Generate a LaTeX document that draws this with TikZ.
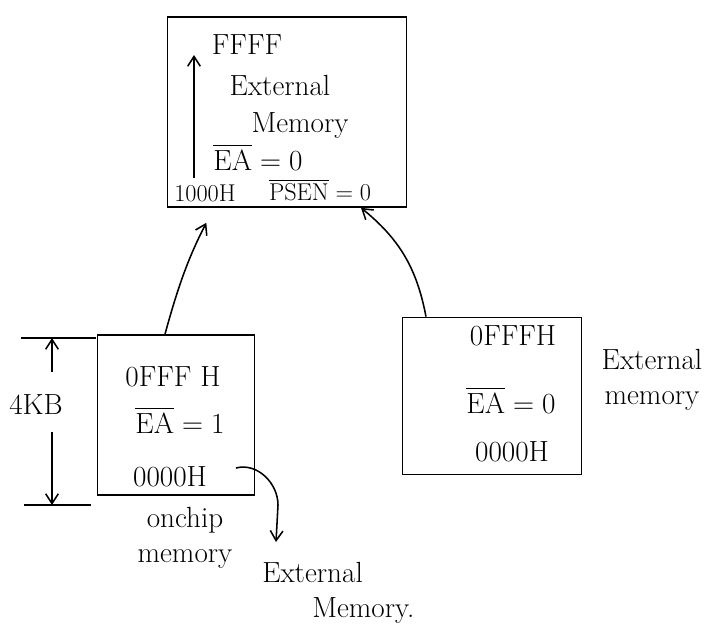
\documentclass[tikz,border=0pt]{standalone}
\usepackage{amsmath,amssymb}
\usepackage{xcolor}
\usepackage{tikz}
\usetikzlibrary{arrows.meta, positioning}

\begin{document}
\begin{tikzpicture}[
    x=0.025cm, y=-0.025cm,
    membox/.style={rectangle, draw, line width=1.1pt},
    memtext/.style={font=\huge},
    smalltext/.style={font=\LARGE},
    arrow/.style={-{Straight Barb[length=7pt,width=9pt]}, line width=1.1pt},
    dimline/.style={line width=1.1pt}
]
\useasboundingbox (0,0) rectangle (712,641);

% memory blocks
\node[membox, minimum width=5.98cm, minimum height=4.75cm] (ext) at (287,112) {};
\node[membox, minimum width=3.93cm, minimum height=4cm] (onchip) at (176,415) {};
\node[membox, minimum width=4.48cm, minimum height=3.93cm] (extlow) at (492,396) {};

% external memory above 1000H
\node[memtext] (hiaddr) at (247,45) {FFFF};
\node[memtext] (extname) at (280,85) {External};
\node[memtext] (extname2) at (300,125) {Memory};
\node[memtext] (eazero) at (258,157) {$\overline{\text{EA}}=0$};
\node[smalltext] (loaddr) at (205,193) {1000H};
\node[smalltext] (psen) at (320,190) {$\overline{\text{PSEN}}=0$};
\coordinate (rangebot) at (194,178);
\coordinate (rangetop) at (194,55);
\draw[arrow] (rangebot) -- (rangetop);

% on chip block
\node[memtext] (onhi) at (173,377) {0FFF H};
\node[memtext] (eaone) at (180,420) {$\overline{\text{EA}}=1$};
\node[memtext] (onlo) at (170,477) {0000H};

% external block from 0000H
\node[memtext] (exthi) at (513,336) {0FFFH};
\node[memtext] (eazero2) at (511,400) {$\overline{\text{EA}}=0$};
\node[memtext] (extlo) at (512,452) {0000H};
\node[memtext, align=center] (extlabel) at (652,380) {External\\memory};

% 4KB size
\node[memtext] (size) at (36,405) {4KB};
\coordinate (dimtop) at (52,338);
\coordinate (dimbot) at (52,505);
\draw[dimline] ([xshift=-22]dimtop) -- ([xshift=31]dimtop);
\draw[dimline] ([xshift=-20]dimbot) -- ([xshift=28]dimbot);
\draw[arrow] (52,372) -- (dimtop);
\draw[arrow] (52,432) -- (dimbot);

% labels below
\node[memtext, align=center] (onchiplabel) at (185,538) {onchip\\memory};
\node[memtext, align=left, anchor=north west, inner sep=0pt] (extmemlabel) at (262,562) {External\\\hspace*{1.25cm}Memory.};

% connectors
\draw[arrow, shorten >=12] (onchip.north -| 165,0) to[bend left=6] (ext.south -| 214,0);
\draw[arrow] (extlow.north -| 426,0) to[bend right=20] (ext.south -| 361,0);
\coordinate (jumpfrom) at (236,468);
\coordinate (jumpto) at (276,542);
\draw[arrow] (jumpfrom) to[out=15,in=90] (278,505) -- (jumpto);
\end{tikzpicture}
\end{document}
